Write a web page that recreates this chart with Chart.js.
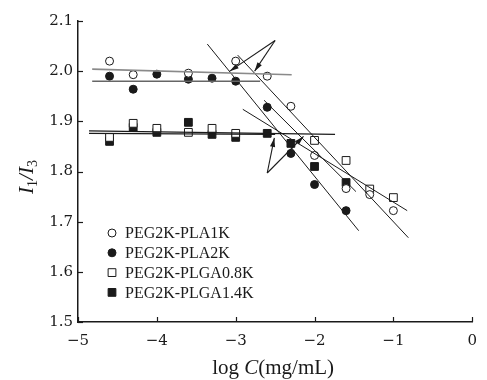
<!DOCTYPE html>
<html>
<head>
<meta charset="utf-8">
<script src="https://cdn.jsdelivr.net/npm/chart.js@4/dist/chart.umd.min.js"></script>
<style>
  html, body { margin: 0; padding: 0; background: #fff; }
  #wrap { width: 487px; height: 380px; }
</style>
</head>
<body>
<div id="wrap"><canvas id="chart"></canvas></div>
<script>
// ---- data (x = log C, y = I1/I3) ----
const seriesNames = ['PEG2K-PLA1K', 'PEG2K-PLA2K', 'PEG2K-PLGA0.8K', 'PEG2K-PLGA1.4K'];

const pla1kX = [-4.6, -4.3, -3.6, -3.0, -2.6, -2.3, -2.0, -1.6, -1.3, -1.0];
const pla1kY = [2.02, 1.993, 1.996, 2.02, 1.99, 1.93, 1.832, 1.766, 1.754, 1.722];

const pla2kX = [-4.6, -4.3, -4.0, -3.6, -3.3, -3.0, -2.6, -2.3, -2.0, -1.6];
const pla2kY = [1.99, 1.964, 1.994, 1.984, 1.986, 1.98, 1.928, 1.836, 1.774, 1.722];

const plga08X = [-4.6, -4.3, -4.0, -3.6, -3.3, -3.0, -2.0, -1.6, -1.3, -1.0];
const plga08Y = [1.868, 1.896, 1.886, 1.878, 1.886, 1.876, 1.862, 1.822, 1.765, 1.748];

const plga14X = [-4.6, -4.3, -4.0, -3.6, -3.3, -3.0, -2.6, -2.3, -2.0, -1.6];
const plga14Y = [1.86, 1.888, 1.878, 1.898, 1.874, 1.868, 1.876, 1.856, 1.81, 1.778];

// fitted straight lines [x0, y0, x1, y1]
const flatLines = [
  [-4.82, 2.004, -2.29, 1.993],
  [-4.82, 1.980, -2.69, 1.980],
  [-4.86, 1.881, -1.74, 1.874],
  [-4.86, 1.876, -2.50, 1.874]
];
const steepLines = [
  [-3.36, 2.054, -1.44, 1.682],
  [-2.975, 2.032, -0.81, 1.668],
  [-2.64, 1.942, -1.475, 1.760],
  [-2.91, 1.924, -0.825, 1.722]
];
// arrows [xFrom, yFrom, xTo, yTo] (head at "To")
const arrows = [
  [-2.5, 2.061, -3.075, 2.0],
  [-2.5, 2.061, -2.76, 2.0],
  [-2.6, 1.797, -2.51, 1.867],
  [-2.6, 1.797, -2.14, 1.87]
];

const xTicks = [-5, -4, -3, -2, -1, 0];
const yTicks = [1.5, 1.6, 1.7, 1.8, 1.9, 2.0, 2.1];

const INK = '#1a1a1a';
const toPoints = (xs, ys) => xs.map((x, i) => ({ x, y: ys[i] }));
const seg = s => [{ x: s[0], y: s[1] }, { x: s[2], y: s[3] }];

const markerStyles = [
  { pointStyle: 'circle', fill: '#fff', radius: 4 },
  { pointStyle: 'circle', fill: INK, radius: 4 },
  { pointStyle: 'rect', fill: '#fff', radius: 5.5 },
  { pointStyle: 'rect', fill: INK, radius: 5.5 }
];

const lineSet = (s, color, width, kind) => ({
  type: 'line',
  data: seg(s),
  borderColor: color,
  borderWidth: width,
  pointRadius: 0,
  fill: false,
  kind
});

const datasets = [];
flatLines.forEach((s, i) => datasets.push(lineSet(s, i === 0 ? '#8a8a8a' : (i === 1 ? '#666' : INK), i < 2 ? 1.6 : 1.2, 'fit')));
steepLines.forEach(s => datasets.push(lineSet(s, INK, 1, 'fit')));
arrows.forEach(s => datasets.push(lineSet(s, INK, 1.1, 'arrow')));

[[pla1kX, pla1kY], [pla2kX, pla2kY], [plga08X, plga08Y], [plga14X, plga14Y]].forEach((xy, i) => {
  const m = markerStyles[i];
  datasets.push({
    type: 'scatter',
    label: seriesNames[i],
    data: toPoints(xy[0], xy[1]),
    pointStyle: m.pointStyle,
    pointRadius: m.radius,
    pointBackgroundColor: m.fill,
    pointBorderColor: INK,
    pointBorderWidth: 1,
    showLine: false
  });
});

// draws a marker like chart.js does
const drawMarker = (ctx, style, x, y) => {
  ctx.save();
  ctx.fillStyle = style.fill;
  ctx.strokeStyle = INK;
  ctx.lineWidth = 1;
  ctx.beginPath();
  if (style.pointStyle === 'circle') {
    ctx.arc(x, y, style.radius, 0, Math.PI * 2);
  } else {
    const h = style.radius * Math.SQRT1_2;
    ctx.rect(x - h, y - h, 2 * h, 2 * h);
  }
  ctx.fill();
  ctx.stroke();
  ctx.restore();
};

const figurePlugin = {
  id: 'figure',
  afterDatasetsDraw(chart) {
    const ctx = chart.ctx;
    // arrow heads
    chart.data.datasets.forEach((ds, i) => {
      if (ds.kind !== 'arrow') return;
      const pts = chart.getDatasetMeta(i).data;
      const a = pts[0], b = pts[1];
      const ang = Math.atan2(b.y - a.y, b.x - a.x);
      const len = 9, half = 2.6;
      ctx.save();
      ctx.fillStyle = INK;
      ctx.translate(b.x, b.y);
      ctx.rotate(ang);
      ctx.beginPath();
      ctx.moveTo(0, 0);
      ctx.lineTo(-len, -half);
      ctx.lineTo(-len, half);
      ctx.closePath();
      ctx.fill();
      ctx.restore();
    });
  },
  afterDraw(chart) {
    const ctx = chart.ctx;
    const area = chart.chartArea;
    const xs = chart.scales.x, ys = chart.scales.y;

    // inward tick marks
    ctx.save();
    ctx.strokeStyle = INK;
    ctx.lineWidth = 1.2;
    xTicks.forEach(v => {
      const px = Math.round(xs.getPixelForValue(v)) + 0.5;
      ctx.beginPath(); ctx.moveTo(px, area.bottom); ctx.lineTo(px, area.bottom - 5); ctx.stroke();
    });
    yTicks.forEach(v => {
      const py = Math.round(ys.getPixelForValue(v)) + 0.5;
      ctx.beginPath(); ctx.moveTo(area.left, py); ctx.lineTo(area.left + 5, py); ctx.stroke();
    });
    ctx.restore();

    // legend inside plot
    ctx.save();
    ctx.font = '16px "Liberation Serif", "Times New Roman", serif';
    ctx.fillStyle = INK;
    ctx.textBaseline = 'middle';
    const lx = area.left + 34, ly = area.top + 212;
    seriesNames.forEach((name, i) => {
      const y = ly + i * 19.8;
      drawMarker(ctx, markerStyles[i], lx, y);
      ctx.fillText(name, lx + 13, y + 1);
    });
    ctx.restore();

    // x axis title: log C(mg/mL), C italic
    ctx.save();
    ctx.fillStyle = INK;
    ctx.textBaseline = 'alphabetic';
    const fontUp = '21px "Liberation Serif", "Times New Roman", serif';
    const fontIt = 'italic 21px "Liberation Serif", "Times New Roman", serif';
    const parts = [['log ', fontUp], ['C', fontIt], ['(mg/mL)', fontUp]];
    let total = 0;
    parts.forEach(p => { ctx.font = p[1]; total += ctx.measureText(p[0]).width; });
    let cx = (area.left + area.right) / 2 - 2 - total / 2;
    parts.forEach(p => { ctx.font = p[1]; ctx.fillText(p[0], cx, 374); cx += ctx.measureText(p[0]).width; });
    ctx.restore();

    // y axis title: I1/I3 rotated, italic with subscripts
    ctx.save();
    ctx.fillStyle = INK;
    ctx.translate(33, 177);
    ctx.rotate(-Math.PI / 2);
    const big = 'italic 21px "Liberation Serif", "Times New Roman", serif';
    const small = '14px "Liberation Serif", "Times New Roman", serif';
    const yparts = [['I', big, 0], ['1', small, 4], ['/', big, 0], ['I', big, 0], ['3', small, 4]];
    let w = 0;
    yparts.forEach(p => { ctx.font = p[1]; w += ctx.measureText(p[0]).width; });
    let tx = -w / 2;
    yparts.forEach(p => { ctx.font = p[1]; ctx.fillText(p[0], tx, p[2]); tx += ctx.measureText(p[0]).width; });
    ctx.restore();
  }
};

const tickFont = { family: '"DejaVu Serif", serif', size: 15 };

new Chart(document.getElementById('chart'), {
  type: 'scatter',
  data: { datasets },
  options: {
    responsive: true,
    maintainAspectRatio: false,
    animation: false,
    layout: { padding: { left: 0, top: 21, right: 9, bottom: 0 } },
    plugins: {
      legend: { display: false },
      tooltip: { enabled: false }
    },
    scales: {
      x: {
        type: 'linear',
        min: -5,
        max: 0,
        grid: { display: false, drawTicks: false },
        border: { display: true, color: INK, width: 1.5 },
        afterBuildTicks: scale => { scale.ticks = xTicks.map(v => ({ value: v })); },
        ticks: {
          color: INK,
          font: tickFont,
          padding: 10,
          maxRotation: 0,
          callback: v => (v < 0 ? '\u2212' + Math.abs(v) : String(v))
        },
        afterFit: scale => { scale.height = 58; }
      },
      y: {
        type: 'linear',
        min: 1.5,
        max: 2.1,
        grid: { display: false, drawTicks: false },
        border: { display: true, color: INK, width: 1.5 },
        afterBuildTicks: scale => { scale.ticks = yTicks.map(v => ({ value: v })); },
        ticks: {
          color: INK,
          font: tickFont,
          padding: 5,
          callback: v => Number(v).toFixed(1)
        },
        afterFit: scale => { scale.width = 78; }
      }
    }
  },
  plugins: [figurePlugin]
});
</script>
</body>
</html>
